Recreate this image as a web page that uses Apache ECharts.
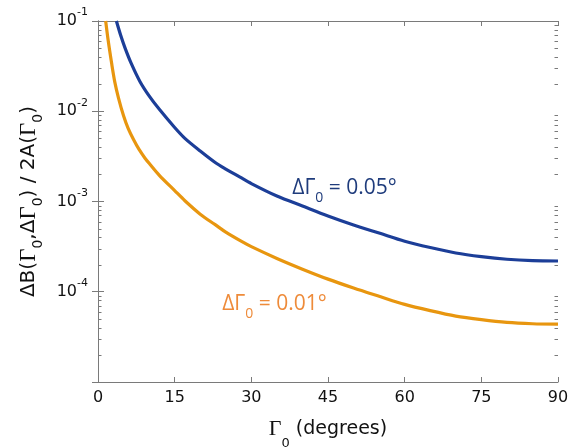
<!DOCTYPE html>
<html>
<head>
<meta charset="utf-8">
<script src="https://cdn.jsdelivr.net/npm/echarts@6/dist/echarts.min.js"></script>
<style>
html,body{margin:0;padding:0;background:#fff;}
#chart{width:570px;height:447px;}
</style>
</head>
<body>
<div id="chart"></div>
<script>
// ---- data ----
const xTicks = [0, 15, 30, 45, 60, 75, 90];
const yDecades = [1e-5, 1e-4, 1e-3, 1e-2, 1e-1];
const minorMultipliers = [2, 3, 4, 5, 6, 7, 8, 9];

const blueName = '\u0394\u0393\u2080 = 0.05\u00b0';
const blueDeg = [3.6, 4.5, 5.3, 6.5, 8.2, 10, 12, 15, 17, 20, 23, 25, 27.8, 30, 35, 40, 45, 50, 55, 60, 65, 70, 75, 80, 85, 90];
const blueVal = [0.1, 0.0676, 0.0501, 0.0339, 0.0214, 0.0148, 0.0105, 0.00661, 0.00501, 0.00363, 0.00269, 0.00229, 0.00186, 0.00158, 0.00115, 0.000891, 0.000692, 0.00055, 0.000447, 0.000363, 0.000309, 0.000269, 0.000245, 0.000229, 0.000221, 0.000219];

const orangeName = '\u0394\u0393\u2080 = 0.01\u00b0';
const orangeDeg = [1.5, 2.0, 2.7, 3.3, 4.0, 5.0, 5.9, 7, 8, 9.2, 10.2, 12, 15, 17, 20, 23, 25, 28, 30, 35, 40, 45, 50, 55, 60, 65, 70, 75, 80, 85, 90];
const orangeVal = [0.1, 0.0603, 0.0331, 0.0209, 0.0141, 0.00891, 0.00646, 0.00479, 0.0038, 0.00302, 0.00257, 0.00195, 0.00132, 0.00102, 0.000724, 0.00055, 0.000457, 0.000363, 0.000316, 0.000234, 0.000178, 0.000138, 0.00011, 0.0000891, 0.0000724, 0.0000617, 0.0000537, 0.000049, 0.0000457, 0.0000442, 0.0000437];

// annotation anchors (data coords of the label box top-left)
const blueLabelAt = [38.0, 0.0022];
const orangeLabelAt = [24.3, 0.000112];

// ---- chart ----
const BLUE = '#1c3e98';
const ORANGE = '#e8960f';
const AXIS = '#7a7a7a';

const minorVals = [];
for (let d = 0; d < yDecades.length - 1; d++) {
  for (const m of minorMultipliers) minorVals.push(yDecades[d] * m);
}

const chart = echarts.init(document.getElementById('chart'), null, {renderer: 'canvas'});

const supRich = {
  b: {fontFamily: 'DejaVu Sans', fontSize: 16, lineHeight: 28, color: '#111'},
  s: {fontFamily: 'DejaVu Sans', fontSize: 11, lineHeight: 13, verticalAlign: 'top', color: '#111'}
};

const yNameRich = {
  t: {fontFamily: 'DejaVu Sans', fontSize: 20, lineHeight: 34, color: '#111'},
  g: {fontFamily: 'Liberation Serif', fontSize: 23, lineHeight: 34, color: '#111'},
  sub: {fontFamily: 'DejaVu Sans', fontSize: 14, lineHeight: 34, verticalAlign: 'bottom', color: '#111'}
};
const xNameRich = {
  t: {fontFamily: 'DejaVu Sans', fontSize: 19, lineHeight: 42, color: '#111'},
  g: {fontFamily: 'Liberation Serif', fontSize: 22, lineHeight: 42, color: '#111'},
  sub: {fontFamily: 'DejaVu Sans', fontSize: 13, lineHeight: 42, verticalAlign: 'bottom', color: '#111'}
};

const option = {
  animation: false,
  backgroundColor: '#fff',
  grid: {left: 98, right: 12, top: 21, bottom: 65, containLabel: false, outerBoundsMode: 'none'},
  xAxis: [{
    type: 'value', min: 0, max: 90, interval: 15,
    axisLine: {show: true, lineStyle: {color: AXIS, width: 1}},
    axisTick: {show: true, inside: true, length: 5, lineStyle: {color: AXIS}},
    axisLabel: {fontFamily: 'DejaVu Sans', fontSize: 16, color: '#111', margin: 8,
      formatter: v => xTicks.includes(v) ? String(v) : ''},
    splitLine: {show: false},
    name: '{g|\u0393}{sub|0}{t| (degrees)}',
    nameLocation: 'middle', nameGap: 26,
    nameTextStyle: {rich: xNameRich}
  }, {
    type: 'value', min: 0, max: 90, interval: 15, position: 'top',
    axisLine: {show: true, lineStyle: {color: AXIS, width: 1}},
    axisTick: {show: true, inside: true, length: 5, lineStyle: {color: AXIS}},
    axisLabel: {show: false}, splitLine: {show: false}
  }],
  yAxis: [{
    type: 'log', logBase: 10, min: 1e-5, max: 1e-1,
    axisLine: {show: true, lineStyle: {color: AXIS, width: 1}},
    axisTick: {show: true, inside: true, length: 6, lineStyle: {color: AXIS}},
    axisLabel: {margin: 10, rich: supRich,
      formatter: v => {
        const e = Math.round(Math.log10(v));
        if (e <= -5) return '';
        return '{b|10}{s|' + e + '}';
      }},
    splitLine: {show: false},
    name: '{t|\u0394B(}{g|\u0393}{sub|0}{t|,\u0394}{g|\u0393}{sub|0}{t|) / 2A(}{g|\u0393}{sub|0}{t|)}',
    nameLocation: 'middle', nameGap: 50, nameRotate: 90,
    nameTextStyle: {rich: yNameRich}
  }, {
    type: 'log', logBase: 10, min: 1e-5, max: 1e-1, position: 'right',
    axisLine: {show: true, lineStyle: {color: AXIS, width: 1}},
    axisTick: {show: true, inside: true, length: 6, lineStyle: {color: AXIS}},
    axisLabel: {show: false}, splitLine: {show: false}
  }],
  series: [{
    type: 'custom', name: 'minorTicks', silent: true,
    xAxisIndex: 0, yAxisIndex: 0,
    data: minorVals.map(v => [0, v]),
    encode: {x: 0, y: 1},
    renderItem: function (params, api) {
      const v = api.value(1);
      const pl = api.coord([0, v]);
      const pr = api.coord([90, v]);
      const st = {stroke: AXIS, lineWidth: 1};
      return {type: 'group', children: [
        {type: 'line', shape: {x1: pl[0], y1: Math.round(pl[1]) + 0.5, x2: pl[0] + 3.5, y2: Math.round(pl[1]) + 0.5}, style: st},
        {type: 'line', shape: {x1: pr[0] - 3.5, y1: Math.round(pr[1]) + 0.5, x2: pr[0], y2: Math.round(pr[1]) + 0.5}, style: st}
      ]};
    },
    z: 1
  }, {
    type: 'line', name: blueName,
    data: blueDeg.map((d, i) => [d, blueVal[i]]),
    showSymbol: false, smooth: 0.3,
    lineStyle: {color: BLUE, width: 3.2}, itemStyle: {color: BLUE}, z: 3
  }, {
    type: 'line', name: orangeName,
    data: orangeDeg.map((d, i) => [d, orangeVal[i]]),
    showSymbol: false, smooth: 0.3,
    lineStyle: {color: ORANGE, width: 3.2}, itemStyle: {color: ORANGE}, z: 3
  }]
};

chart.setOption(option);

function annot(at, text, color) {
  const p = chart.convertToPixel({xAxisIndex: 0, yAxisIndex: 0}, at);
  return {
    type: 'text', x: p[0], y: p[1], z: 10,
    style: {
      text: text, align: 'left', verticalAlign: 'top',
      rich: {
        a: {fontFamily: 'Open Sans', fontSize: 21, lineHeight: 34, fill: color},
        s: {fontFamily: 'Open Sans', fontSize: 14, lineHeight: 34, verticalAlign: 'bottom', fill: color}
      }
    }
  };
}

chart.setOption({graphic: [
  annot(blueLabelAt, '{a|\u0394\u0393}{s|0}{a| = 0.05\u00b0}', '#1f3c7c'),
  annot(orangeLabelAt, '{a|\u0394\u0393}{s|0}{a| = 0.01\u00b0}', '#ee8b3a')
]});
</script>
</body>
</html>
